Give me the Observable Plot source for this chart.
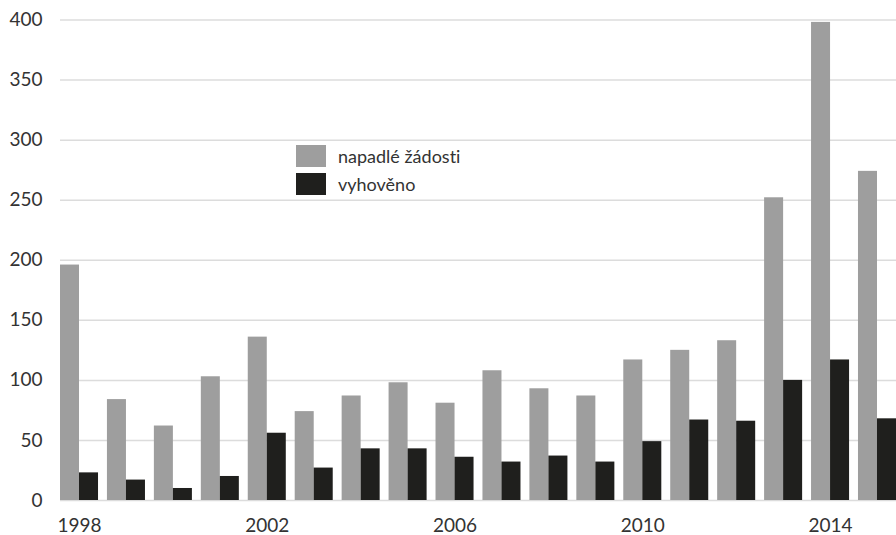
<!DOCTYPE html>
<html><head><meta charset="utf-8">
<script src="https://cdn.jsdelivr.net/npm/d3@7"></script>
<script src="https://cdn.jsdelivr.net/npm/@observablehq/plot@0.6"></script>
<style>
html,body{margin:0;padding:0;background:#fff;overflow:hidden}
#wrap{position:relative;width:896px;height:535px;font-family:Lato,sans-serif;font-variant-ligatures:none}
#wrap svg{display:block;font-variant-ligatures:none}
.legend{position:absolute;left:296px;top:145px;font-size:18px;color:#333;font-family:Lato,sans-serif;font-variant-ligatures:none}
.row{display:flex;align-items:center;height:28px}
.sw{width:30px;height:22px;margin-right:12px;flex:none}
.row:first-child{margin-top:-3px}
</style></head><body><div id="wrap"></div>
<script>
const years = [1998,1999,2000,2001,2002,2003,2004,2005,2006,2007,2008,2009,2010,2011,2012,2013,2014,2015];
const filed   = [196,84,62,103,136,74,87,98,81,108,93,87,117,125,133,252,398,274];
const granted = [23,17,10,20,56,27,43,43,36,32,37,32,49,67,66,100,117,68];
const seriesNames = ["napadlé žádosti","vyhověno"];
const seriesColors = ["#9e9e9e","#1f1f1d"];
const yTicks = [0,50,100,150,200,250,300,350,400];
const xTickYears = [1998,2002,2006,2010,2014];

const W = 896, H = 535, ML = 60, MR = 0;
const padInner = 0.19;
const step = (W - ML - MR) / (years.length - padInner);
const half = step * (1 - padInner) / 2;

const filedData = years.map((yr,i)=>({year:yr, series:seriesNames[0], value:filed[i]}));
const grantedData = years.map((yr,i)=>({year:yr, series:seriesNames[1], value:granted[i]}));

const chart = Plot.plot({
  width:W, height:H,
  marginLeft:ML, marginRight:MR, marginTop:19.5, marginBottom:35,
  style:{fontFamily:"Lato, sans-serif", fontSize:"19px", color:"#333", background:"#fff"},
  x:{type:"band", domain:years, paddingInner:padInner, paddingOuter:0, round:false, label:null},
  y:{domain:[0,400], label:null},
  color:{domain:seriesNames, range:seriesColors},
  marks:[
    Plot.gridY(yTicks, {stroke:"#dcdcdc", strokeOpacity:1, strokeWidth:1.5}),
    Plot.barY(filedData, {x:"year", y:"value", fill:"series", insetRight:half}),
    Plot.barY(grantedData, {x:"year", y:"value", fill:"series", insetLeft:half}),
    Plot.axisY({ticks:yTicks, tickSize:0, tickPadding:18, label:null, fontSize:19}),
    Plot.axisX({ticks:xTickYears, tickSize:0, tickPadding:18, label:null, fontSize:19, tickFormat:d=>String(d)})
  ]
});
const wrap = document.getElementById("wrap");
wrap.appendChild(chart);
const legend = document.createElement("div");
legend.className = "legend";
seriesNames.forEach((name,i)=>{
  const row = document.createElement("div");
  row.className = "row";
  const sw = document.createElement("span");
  sw.className = "sw";
  sw.style.background = seriesColors[i];
  const t = document.createElement("span");
  t.textContent = name;
  row.appendChild(sw); row.appendChild(t);
  legend.appendChild(row);
});
wrap.appendChild(legend);
</script>
</body></html>
